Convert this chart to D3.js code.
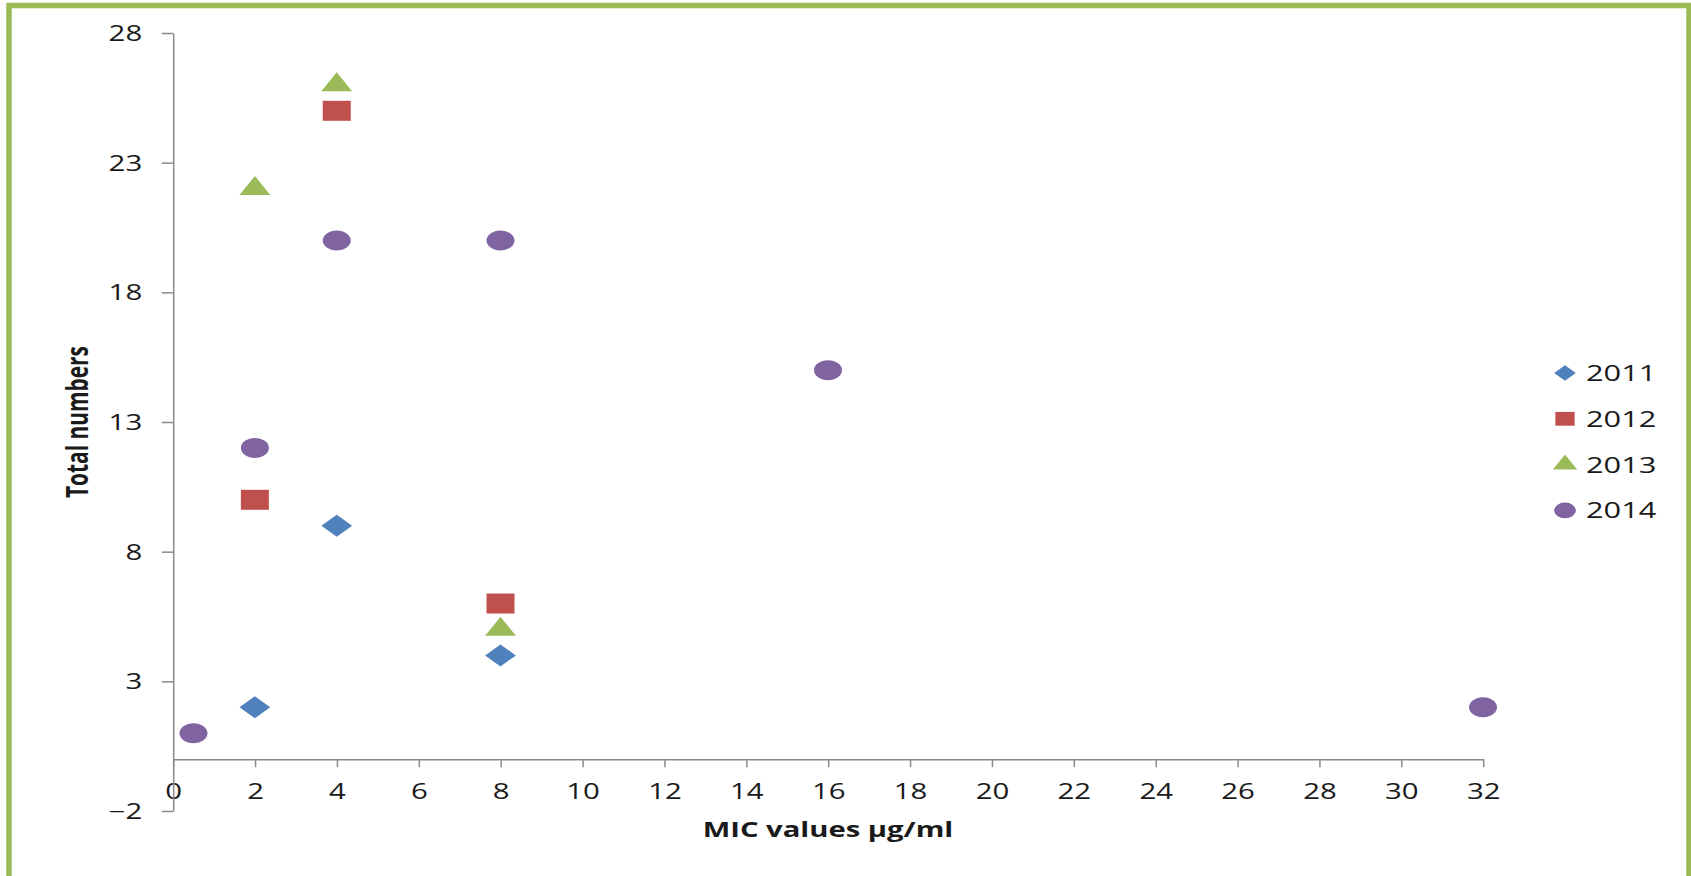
<!DOCTYPE html>
<html>
<head>
<meta charset="utf-8">
<script src="https://cdn.jsdelivr.net/npm/d3@7"></script>
<style>
  html, body { margin: 0; padding: 0; background: #fff; overflow: hidden; }
  svg { display: block; }
  text { font-family: "Open Sans", "Liberation Sans", sans-serif; fill: #1a1a1a; }
</style>
</head>
<body>
<svg id="chart"></svg>
<script>
// MIC values (µg/ml) and counts per year
const years = ["2011", "2012", "2013", "2014"];
const mic2011 = [2, 4, 8];
const count2011 = [2, 9, 4];
const mic2012 = [2, 4, 8];
const count2012 = [10, 25, 6];
const mic2013 = [2, 4, 8];
const count2013 = [22, 26, 5];
const mic2014 = [0.5, 2, 4, 8, 16, 32];
const count2014 = [1, 12, 20, 20, 15, 2];
const xTicks = [0, 2, 4, 6, 8, 10, 12, 14, 16, 18, 20, 22, 24, 26, 28, 30, 32];
const yTicks = [-2, 3, 8, 13, 18, 23, 28];
const xTitle = "MIC values µg/ml";
const yTitle = "Total numbers";

const colors = ["#4F81BD", "#C0504D", "#9BBB59", "#8064A2"];
const seriesX = [mic2011, mic2012, mic2013, mic2014];
const seriesY = [count2011, count2012, count2013, count2014];

// The drawing is laid out in a narrower coordinate space and stretched
// horizontally to fill the page, which gives the wide marker/text look.
const PW = 1691, PH = 876, SX = 1.4;
const VW = PW / SX, VH = PH;

const svg = d3.select("#chart")
  .attr("width", PW).attr("height", PH)
  .attr("viewBox", `0 0 ${VW} ${VH}`)
  .attr("preserveAspectRatio", "none");

// outer frame
svg.append("rect")
  .attr("x", 9 / SX).attr("y", 5.5)
  .attr("width", (1689 - 9) / SX).attr("height", 920)
  .attr("fill", "none").attr("stroke", "#9BBB59")
  .attr("stroke-width", 5.5).attr("vector-effect", "non-scaling-stroke");

const plotLeft = 173 / SX, plotRight = 1483 / SX, plotTop = 33, plotBottom = 811;
const x = d3.scaleLinear().domain([0, 32]).range([plotLeft, plotRight]);
const y = d3.scaleLinear().domain([-2, 28]).range([plotBottom, plotTop]);

const axisColor = "#8a8a8a";

// x axis crossing at y = 0
const gx = svg.append("g").attr("transform", `translate(0,${y(0)})`)
  .call(d3.axisBottom(x).tickValues(xTicks).tickSizeInner(8).tickSizeOuter(0).tickFormat(d3.format("d")));
gx.selectAll("path, line").attr("stroke", axisColor).attr("stroke-width", 1.5)
  .attr("vector-effect", "non-scaling-stroke");
gx.selectAll("text").attr("y", 33).attr("dy", "0.35em")
  .style("font-size", "21px").attr("fill", "#1a1a1a");

// y axis at x = 0
const gy = svg.append("g").attr("transform", `translate(${x(0)},0)`)
  .call(d3.axisLeft(y).tickValues(yTicks).tickSizeInner(8).tickSizeOuter(0).tickFormat(d3.format("d")));
gy.selectAll("path, line").attr("stroke", axisColor).attr("stroke-width", 1.5)
  .attr("vector-effect", "non-scaling-stroke");
gy.selectAll("text").attr("x", -22).attr("dy", "0.36em")
  .style("font-size", "21px").attr("fill", "#1a1a1a");

// axis titles
svg.append("text")
  .attr("x", (x(0) + x(32)) / 2).attr("y", 837)
  .attr("text-anchor", "middle")
  .attr("textLength", 179).attr("lengthAdjust", "spacingAndGlyphs")
  .style("font-size", "21px").style("font-weight", "bold")
  .text(xTitle);

svg.append("text")
  .attr("transform", `translate(${88 / SX},${(plotTop + plotBottom) / 2}) rotate(-90)`)
  .attr("text-anchor", "middle")
  .attr("textLength", 152).attr("lengthAdjust", "spacingAndGlyphs")
  .style("font-size", "21.5px").style("font-weight", "bold")
  .text(yTitle);

// marker shapes per series (diamond = square turned 45°)
const symbolTypes = [d3.symbolSquare, d3.symbolSquare, d3.symbolTriangle, d3.symbolCircle];
const markerSizes = [242, 400, 210, 314];
const legendSizes = [120, 190, 130, 190];
const rotations = [45, 0, 0, 0];

seriesX.forEach((xs, i) => {
  const pts = xs.map((v, j) => ({ x: v, y: seriesY[i][j] }));
  svg.append("g").selectAll("path").data(pts).join("path")
    .attr("d", d3.symbol().type(symbolTypes[i]).size(markerSizes[i])())
    .attr("transform", d => `translate(${x(d.x)},${y(d.y)}) rotate(${rotations[i]})`)
    .attr("fill", colors[i]);
});

// legend
const legend = svg.append("g");
years.forEach((yr, i) => {
  const cy = 373 + i * 45.8;
  legend.append("path")
    .attr("d", d3.symbol().type(symbolTypes[i]).size(legendSizes[i])())
    .attr("transform", `translate(${1565 / SX},${cy}) rotate(${rotations[i]})`)
    .attr("fill", colors[i]);
  legend.append("text")
    .attr("x", 1586 / SX).attr("y", cy).attr("dy", "0.36em")
    .style("font-size", "22px")
    .text(yr);
});
</script>
</body>
</html>
